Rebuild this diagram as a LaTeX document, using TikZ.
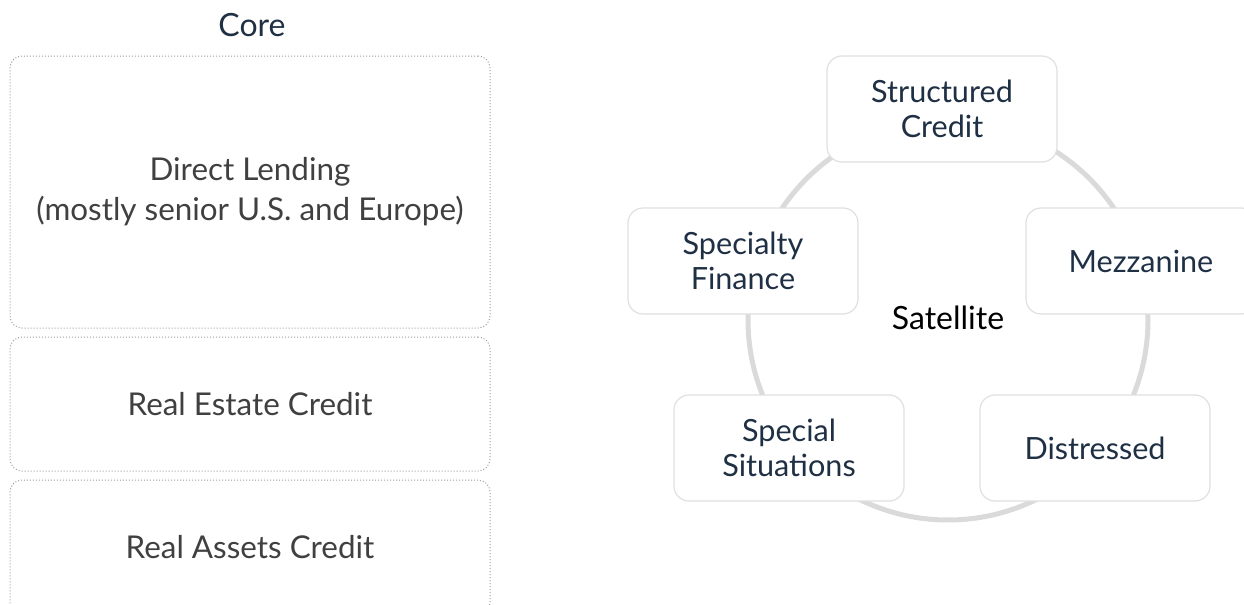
\documentclass[tikz,border=0pt]{standalone}
\usepackage{fontspec}
\setmainfont{Lato}
\definecolor{coretext}{HTML}{404040}
\definecolor{coreline}{HTML}{9E9E9E}
\definecolor{sattext}{HTML}{1F3044}
\definecolor{satline}{HTML}{E0E0E0}
\definecolor{ringline}{HTML}{DADADA}
\tikzset{
	title/.style={text=sattext, font=\fontsize{16}{18}\selectfont},
	corebox/.style={draw=coreline, densely dotted, line width=0.5pt, rounded corners=6pt, minimum width=240pt, align=center, text=coretext, font=\fontsize{15.7}{20}\selectfont},
	satbox/.style={draw=satline, fill=white, line width=0.6pt, rounded corners=7.5pt, minimum width=115pt, minimum height=53pt, align=center, text=sattext, font=\fontsize{15.3}{17.5}\selectfont},
	ring/.style={draw=ringline, line width=2.5pt}
}
\begin{document}
\begin{tikzpicture}[x=0.5pt, y=-0.5pt]
		\clip (0, 0) rectangle (1244, 605);

		% core column
		\node [title]	(core) at (252, 25) {Core};
		\node [corebox, minimum height=136pt]	(lending) at (250, 192) {Direct Lending\\(mostly senior U.S. and Europe)};
		\node [corebox, minimum height=67pt]	(estate) at (250, 404) {Real Estate Credit};
		\node [corebox, minimum height=67.5pt]	(assets) at (250, 547.5) {Real Assets Credit};

		% satellite ring
		\draw [ring]	(948, 320) circle (100pt);
		\node [font=\fontsize{16}{18}\selectfont]	(satellite) at (948, 318) {Satellite};

		\node [satbox]	(structured) at (942, 109) {Structured\\Credit};
		\node [satbox]	(mezzanine) at (1141, 261) {Mezzanine};
		\node [satbox]	(distressed) at (1095, 448) {Distressed};
		\node [satbox]	(special) at (789, 448) {Special\\Situations};
		\node [satbox]	(specialty) at (743, 261) {Specialty\\Finance};
\end{tikzpicture}
\end{document}
